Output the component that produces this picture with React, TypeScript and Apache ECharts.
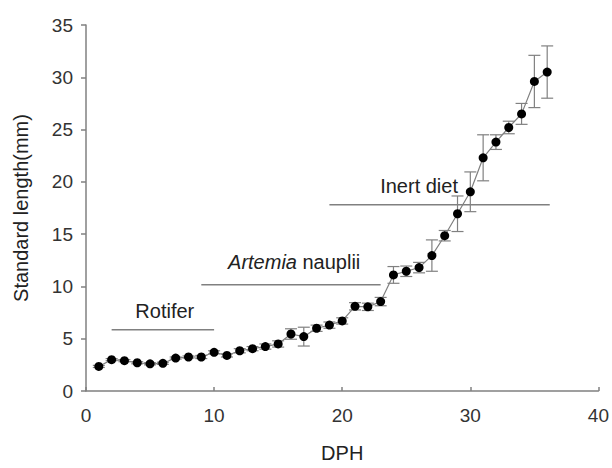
import React, { useEffect, useRef } from "react";
import * as echarts from "echarts";

const dph = [1, 2, 3, 4, 5, 6, 7, 8, 9, 10, 11, 12, 13, 14, 15, 16, 17, 18, 19, 20, 21, 22, 23, 24, 25, 26, 27, 28, 29, 30, 31, 32, 33, 34, 35, 36];
const standardLength = [2.35, 3.0, 2.9, 2.7, 2.6, 2.65, 3.15, 3.25, 3.25, 3.7, 3.4, 3.85, 4.05, 4.25, 4.5, 5.45, 5.2, 6.0, 6.3, 6.7, 8.1, 8.05, 8.55, 11.1, 11.45, 11.8, 12.95, 14.85, 16.95, 19.05, 22.3, 23.8, 25.2, 26.5, 29.6, 30.5];
const stdError = [0.1, 0.1, 0.1, 0.1, 0.1, 0.1, 0.1, 0.1, 0.15, 0.15, 0.15, 0.2, 0.2, 0.25, 0.3, 0.5, 0.9, 0.3, 0.3, 0.3, 0.35, 0.35, 0.4, 0.8, 0.5, 0.5, 1.5, 0.5, 1.7, 1.9, 2.2, 0.7, 0.6, 1.0, 2.5, 2.5];

const dietNames = ["Rotifer", "{i|Artemia} nauplii", "Inert diet"];
const dietStart = [2, 9, 19];
const dietEnd = [10, 23, 36.2];
const dietLevel = [5.85, 10.15, 17.8];
const dietLabelX = [6.15, 16.25, 26.0];
const dietLabelY = [7.66, 12.3, 19.6];

const xTicks = { min: 0, max: 40, interval: 10 };
const yTicks = { min: 0, max: 35, interval: 5 };

const FONT = "'Liberation Sans', Arial, sans-serif";
const GRAY = "#808080";

export default function App() {
  const ref = useRef<HTMLDivElement>(null);
  useEffect(() => {
    if (!ref.current) return;
    const chart = echarts.init(ref.current, undefined, { renderer: "svg" });
    const points = dph.map((d, i) => [d, standardLength[i]]);
    const errData = dph.map((d, i) => [d, standardLength[i], stdError[i]]);
    const dietSeries = dietNames.map((_, i) => ({
      type: "line",
      silent: true,
      symbol: "none",
      lineStyle: { color: GRAY, width: 1.5 },
      data: [
        [dietStart[i], dietLevel[i]],
        [dietEnd[i], dietLevel[i]],
      ],
      z: 1,
    }));
    chart.setOption({
      animation: false,
      backgroundColor: "#ffffff",
      grid: { left: 86, top: 25, right: 12, bottom: 74 },
      xAxis: {
        type: "value",
        min: xTicks.min,
        max: xTicks.max,
        interval: xTicks.interval,
        name: "DPH",
        nameLocation: "middle",
        nameGap: 52,
        nameTextStyle: { fontFamily: FONT, fontSize: 20, color: "#222" },
        axisLine: { show: true, lineStyle: { color: GRAY, width: 1.5 } },
        axisTick: { show: true, inside: true, length: 4, lineStyle: { color: GRAY, width: 1.5 } },
        axisLabel: { fontFamily: FONT, fontSize: 19, color: "#333", margin: 15 },
        splitLine: { show: false },
      },
      yAxis: {
        type: "value",
        min: yTicks.min,
        max: yTicks.max,
        interval: yTicks.interval,
        name: "Standard length(mm)",
        nameLocation: "middle",
        nameGap: 55,
        nameTextStyle: { fontFamily: FONT, fontSize: 20, color: "#222" },
        axisLine: { show: true, lineStyle: { color: GRAY, width: 1.5 } },
        axisTick: { show: true, inside: false, length: 5, lineStyle: { color: GRAY, width: 1.5 } },
        axisLabel: { fontFamily: FONT, fontSize: 19, color: "#333", margin: 13 },
        splitLine: { show: false },
      },
      series: [
        ...dietSeries,
        {
          type: "custom",
          silent: true,
          data: dietNames.map((n, i) => [dietLabelX[i], dietLabelY[i], i]),
          renderItem: (params: any, api: any) => {
            const idx = api.value(2);
            const p = api.coord([api.value(0), api.value(1)]);
            return {
              type: "text",
              x: p[0],
              y: p[1],
              style: {
                text: dietNames[idx],
                fontFamily: FONT,
                fontSize: 20,
                fill: "#222",
                align: "center",
                verticalAlign: "middle",
                rich: { i: { fontStyle: "italic", fontFamily: FONT, fontSize: 20, fill: "#222" } },
              },
            };
          },
          z: 3,
        },
        {
          type: "custom",
          silent: true,
          data: errData,
          renderItem: (params: any, api: any) => {
            const x = api.value(0);
            const y = api.value(1);
            const e = api.value(2);
            const top = api.coord([x, y + e]);
            const bot = api.coord([x, y - e]);
            const w = 6;
            const st = { stroke: GRAY, lineWidth: 1.2 };
            return {
              type: "group",
              children: [
                { type: "line", shape: { x1: top[0], y1: top[1], x2: bot[0], y2: bot[1] }, style: st },
                { type: "line", shape: { x1: top[0] - w, y1: top[1], x2: top[0] + w, y2: top[1] }, style: st },
                { type: "line", shape: { x1: bot[0] - w, y1: bot[1], x2: bot[0] + w, y2: bot[1] }, style: st },
              ],
            };
          },
          z: 2,
        },
        {
          type: "line",
          data: points,
          symbol: "circle",
          symbolSize: 9,
          itemStyle: { color: "#000" },
          lineStyle: { color: GRAY, width: 1.2 },
          z: 4,
        },
      ],
    });
    return () => chart.dispose();
  }, []);
  return <div ref={ref} style={{ position: "absolute", left: 0, top: 0, width: 612, height: 468 }} />;
}
